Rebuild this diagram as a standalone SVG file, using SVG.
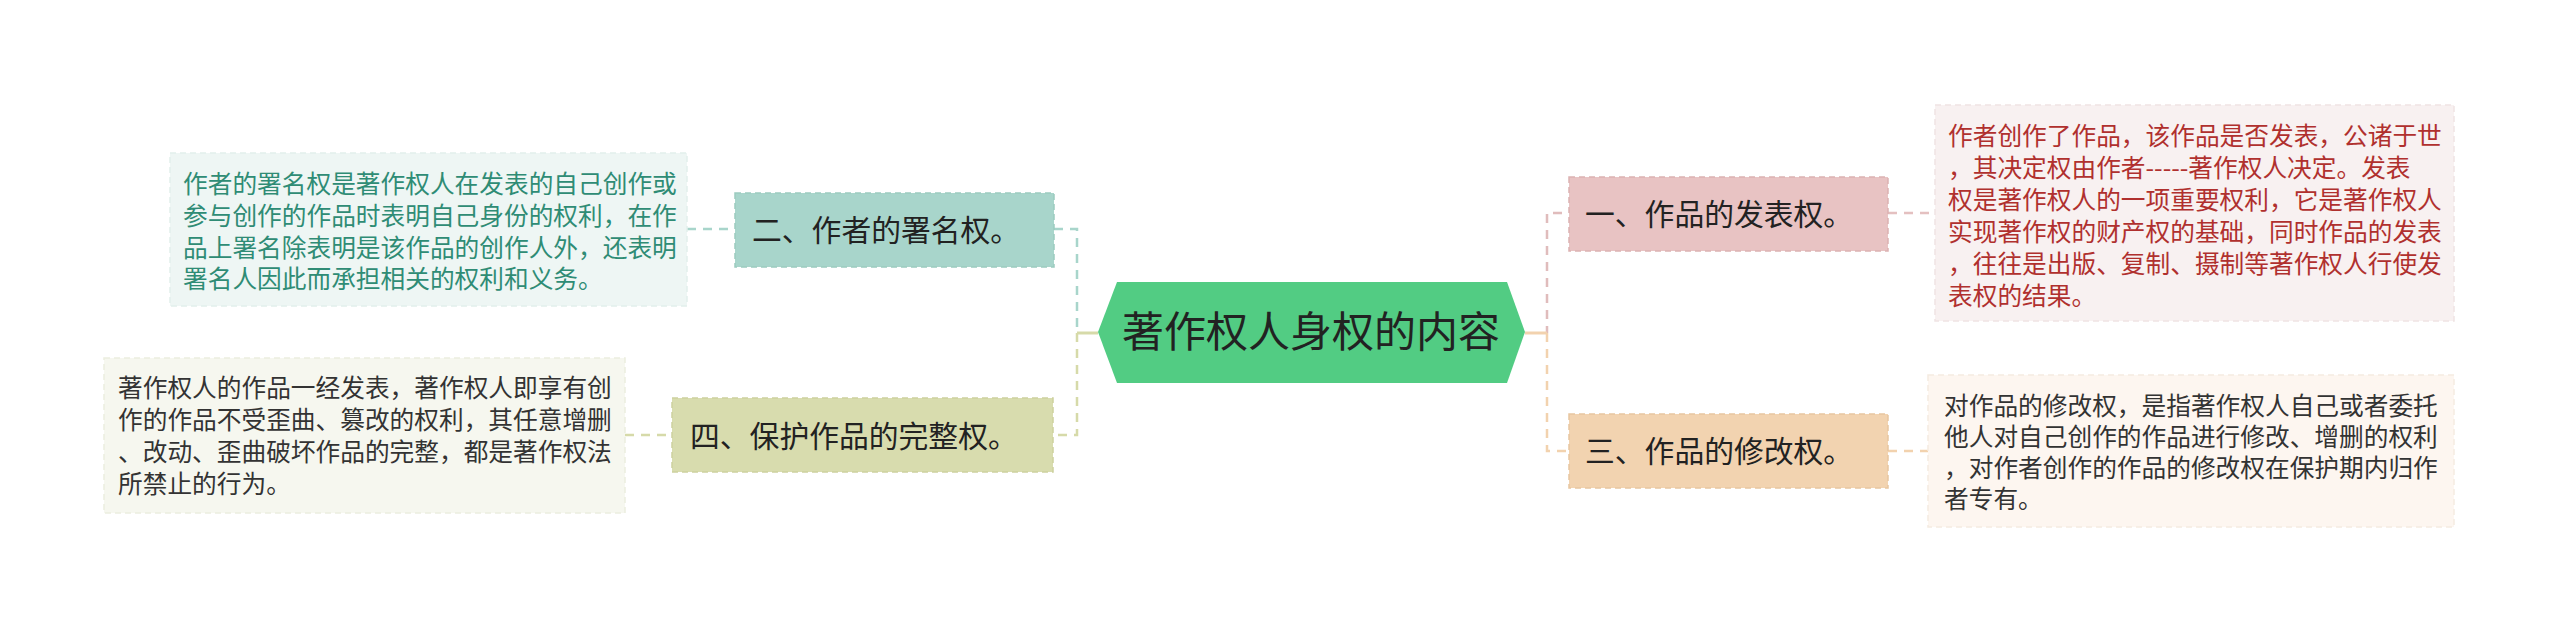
<svg xmlns="http://www.w3.org/2000/svg" width="2560" height="633" viewBox="0 0 2560 633">
<style>
text{font-family:"Noto Sans CJK SC","Noto Sans",sans-serif;}
.leaf{font-size:24.7px;}
.node{font-size:29.8px;fill:#222;}
.dash{fill:none;stroke-width:2.5;stroke-dasharray:9 7;}
</style>
<rect width="2560" height="633" fill="#ffffff"/>
<g id="connectors">
  <line x1="687" y1="229" x2="735" y2="229" class="dash" stroke="#a8d5cb"/>
  <line x1="625" y1="435" x2="672" y2="435" class="dash" stroke="#d6daa9"/>
  <line x1="1888" y1="213" x2="1935" y2="213" class="dash" stroke="#e4c0c0"/>
  <line x1="1888" y1="451" x2="1928" y2="451" class="dash" stroke="#f2d2ae"/>
  <path d="M1054 229 H1077 V333" class="dash" stroke="#a8d5cb" stroke-width="3.5"/>
  <path d="M1077 333 V435 H1054" class="dash" stroke="#d6daa9" stroke-width="3.5"/>
  <line x1="1077" y1="333" x2="1098" y2="333" stroke="#d6daa9" stroke-width="3"/>
  <path d="M1562 213 H1547 V333" class="dash" stroke="#e0bcbc" stroke-width="3.5"/>
  <path d="M1547 333 V451 H1569" class="dash" stroke="#f2d2ae" stroke-width="3.5"/>
  <line x1="1525" y1="333" x2="1547" y2="333" stroke="#f2d2ae" stroke-width="3"/>
</g>
<g id="center">
  <polygon points="1098,332 1117,282 1507,282 1525,332 1507,383 1117,383" fill="#52cc83"/>
  <text x="1311" y="347" font-size="42" fill="#222" text-anchor="middle">著作权人身权的内容</text>
</g>
<g id="node-2">
  <rect x="735" y="193" width="319" height="74" fill="#a8d5cb" stroke="#9ccbc0" stroke-width="1.5" stroke-dasharray="6 4"/>
  <text x="752" y="241" class="node">二、作者的署名权。</text>
</g>
<g id="leaf-2">
  <rect x="170" y="153" width="517" height="153" fill="#eef6f4" stroke="#e2efec" stroke-width="1.5" stroke-dasharray="6 4"/>
  <text class="leaf" fill="#2f8c75">
    <tspan x="183" y="193">作者的署名权是著作权人在发表的自己创作或</tspan>
    <tspan x="183" y="225">参与创作的作品时表明自己身份的权利，在作</tspan>
    <tspan x="183" y="257">品上署名除表明是该作品的创作人外，还表明</tspan>
    <tspan x="183" y="288">署名人因此而承担相关的权利和义务。</tspan>
  </text>
</g>
<g id="node-4">
  <rect x="672" y="398" width="381" height="74" fill="#d8dcae" stroke="#cdd19f" stroke-width="1.5" stroke-dasharray="6 4"/>
  <text x="690" y="447" class="node">四、保护作品的完整权。</text>
</g>
<g id="leaf-4">
  <rect x="104" y="358" width="521" height="155" fill="#f6f7ef" stroke="#eceee0" stroke-width="1.5" stroke-dasharray="6 4"/>
  <text class="leaf" fill="#333">
    <tspan x="118" y="397">著作权人的作品一经发表，著作权人即享有创</tspan>
    <tspan x="118" y="429">作的作品不受歪曲、篡改的权利，其任意增删</tspan>
    <tspan x="118" y="461">、改动、歪曲破坏作品的完整，都是著作权法</tspan>
    <tspan x="118" y="493">所禁止的行为。</tspan>
  </text>
</g>
<g id="node-1">
  <rect x="1569" y="177" width="319" height="74" fill="#e8c3c3" stroke="#dcb2b2" stroke-width="1.5" stroke-dasharray="6 4"/>
  <text x="1585" y="225" class="node">一、作品的发表权。</text>
</g>
<g id="leaf-1">
  <rect x="1935" y="105" width="519" height="216" fill="#f8f1f1" stroke="#f0e4e4" stroke-width="1.5" stroke-dasharray="6 4"/>
  <text class="leaf" fill="#b0302e">
    <tspan x="1948" y="145">作者创作了作品，该作品是否发表，公诸于世</tspan>
    <tspan x="1948" y="177">，其决定权由作者-----著作权人决定。发表</tspan>
    <tspan x="1948" y="209">权是著作权人的一项重要权利，它是著作权人</tspan>
    <tspan x="1948" y="241">实现著作权的财产权的基础，同时作品的发表</tspan>
    <tspan x="1948" y="273">，往往是出版、复制、摄制等著作权人行使发</tspan>
    <tspan x="1948" y="305">表权的结果。</tspan>
  </text>
</g>
<g id="node-3">
  <rect x="1569" y="414" width="319" height="74" fill="#f2d3b0" stroke="#e8c6a0" stroke-width="1.5" stroke-dasharray="6 4"/>
  <text x="1585" y="462" class="node">三、作品的修改权。</text>
</g>
<g id="leaf-3">
  <rect x="1928" y="375" width="526" height="152" fill="#fdf6f0" stroke="#f5ebe1" stroke-width="1.5" stroke-dasharray="6 4"/>
  <text class="leaf" fill="#333">
    <tspan x="1944" y="415">对作品的修改权，是指著作权人自己或者委托</tspan>
    <tspan x="1944" y="446">他人对自己创作的作品进行修改、增删的权利</tspan>
    <tspan x="1944" y="477">，对作者创作的作品的修改权在保护期内归作</tspan>
    <tspan x="1944" y="508">者专有。</tspan>
  </text>
</g>
</svg>
